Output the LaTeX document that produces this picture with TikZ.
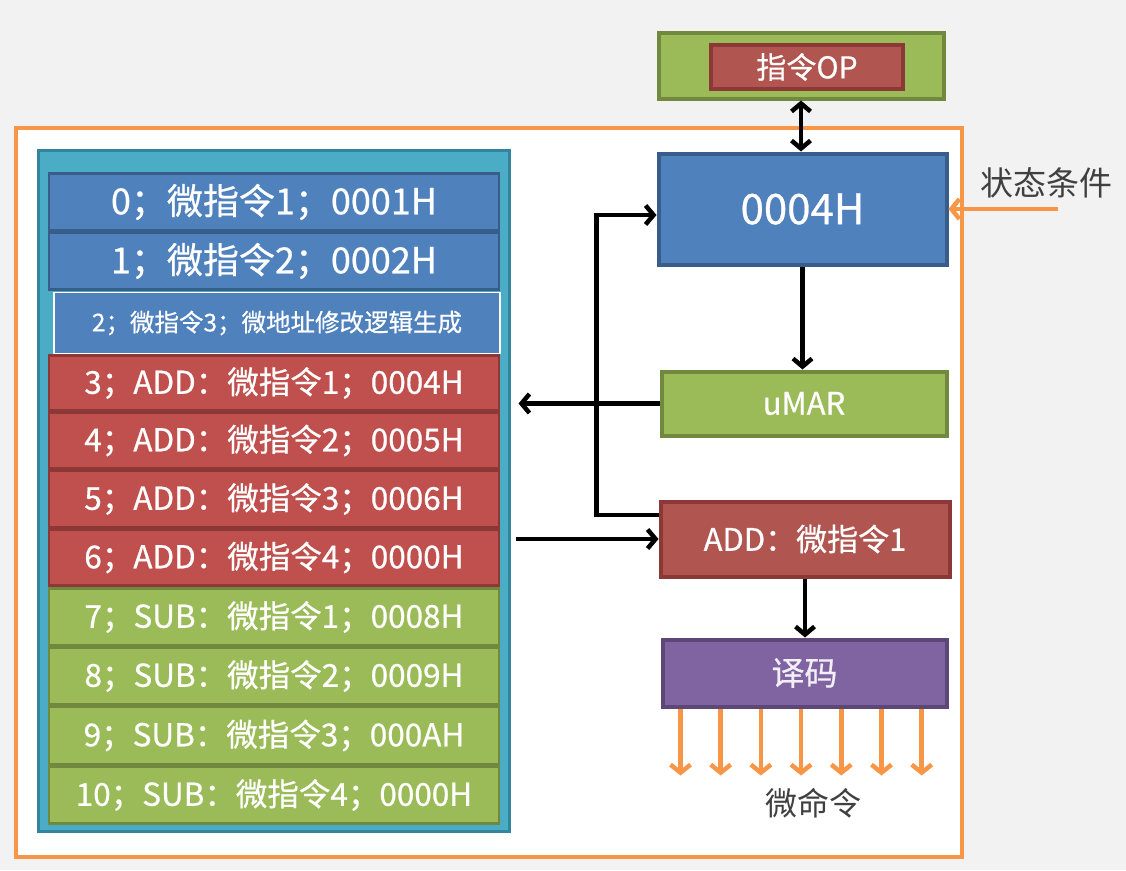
\documentclass[tikz,border=0pt]{standalone}
\usepackage{fontspec}
\setmainfont{Noto Sans CJK SC}[FakeBold=0.6]
\newfontfamily\lblfont{Noto Sans CJK SC}
\usetikzlibrary{arrows.meta}
\definecolor{bgc}{HTML}{F2F2F2}
\definecolor{org}{HTML}{F79646}
\definecolor{teal}{HTML}{4BACC6}
\definecolor{tealD}{HTML}{31859C}
\definecolor{blu}{HTML}{4F81BD}
\definecolor{bluD}{HTML}{385D8A}
\definecolor{red}{HTML}{C0504D}
\definecolor{redD}{HTML}{8C3836}
\definecolor{redB}{HTML}{B0554F}
\definecolor{grn}{HTML}{9BBB59}
\definecolor{grnD}{HTML}{71893F}
\definecolor{pur}{HTML}{8064A2}
\definecolor{purD}{HTML}{5C4776}
\definecolor{gtx}{HTML}{404040}
\begin{document}
\begin{tikzpicture}[x=1pt,y=-1pt,
  box/.style={draw, line width=4pt, inner sep=0pt, text=white},
  rowbox/.style={box, line width=2.5pt, minimum width=450pt},
  fs/.style={font=\fontsize{#1}{#1}\selectfont},
  arr/.style={line width=4.5pt, -{Straight Barb[length=8pt,width=19pt]}},
  darr/.style={line width=4.5pt, {Straight Barb[length=8pt,width=19pt]}-{Straight Barb[length=8pt,width=19pt]}},
  oarr/.style={line width=4.5pt, draw=org, -{Straight Barb[length=8pt,width=20pt]}},
  lbl/.style={text=gtx, inner sep=0pt}]
\fill[bgc] (0,0) rectangle (1126,870);
\useasboundingbox (0,0) rectangle (1126,870);
% outer orange frame
\draw[org, line width=3.5pt, fill=white] (16,128) rectangle (962,857);
% control store container
\node[draw=tealD, fill=teal, line width=3pt, minimum width=471pt, minimum height=681pt, inner sep=0pt] (cs) at (273.5,490.5) {};
% rows
\node[rowbox, fill=blu, draw=bluD, minimum height=57pt, fs=36] (r0) at (274,202) {0；微指令1；0001H};
\node[rowbox, fill=blu, draw=bluD, minimum height=57pt, fs=36] (r1) at (274,261) {1；微指令2；0002H};
\node[rowbox, fill=blu, draw=white, line width=1.2pt, minimum width=446pt, minimum height=61pt, fs=24.5] (r2) at (277,323) {2；微指令3；微地址修改逻辑生成};
\node[rowbox, fill=red, draw=redD, minimum height=55pt, fs=31.5] (r3) at (274,383) {3；ADD：微指令1；0004H};
\node[rowbox, fill=red, draw=redD, minimum height=56pt, fs=31.5] (r4) at (274,440.5) {4；ADD：微指令2；0005H};
\node[rowbox, fill=red, draw=redD, minimum height=57pt, fs=31.5] (r5) at (274,499) {5；ADD：微指令3；0006H};
\node[rowbox, fill=red, draw=redD, minimum height=56pt, fs=31.5] (r6) at (274,557.5) {6；ADD：微指令4；0000H};
\node[rowbox, fill=grn, draw=grnD, minimum height=57pt, fs=31.5] (r7) at (274,617) {7；SUB：微指令1；0008H};
\node[rowbox, fill=grn, draw=grnD, minimum height=57pt, fs=31.5] (r8) at (274,676) {8；SUB：微指令2；0009H};
\node[rowbox, fill=grn, draw=grnD, minimum height=58pt, fs=31.5] (r9) at (274,735.5) {9；SUB：微指令3；000AH};
\node[rowbox, fill=grn, draw=grnD, minimum height=57pt, fs=31.5] (r10) at (274,795) {10；SUB：微指令4；0000H};
% right side
\node[box, fill=grn, draw=grnD, minimum width=285pt, minimum height=66pt] (op) at (801,65.5) {};
\node[box, fill=redB, draw=redD, minimum width=192pt, minimum height=44pt, fs=30] (opin) at (807,67) {指令OP};
\node[box, fill=blu, draw=bluD, minimum width=288pt, minimum height=111pt, fs=42] (pc) at (802.5,209) {0004H};
\node[box, fill=grn, draw=grnD, minimum width=285pt, minimum height=64pt, fs=31] (umar) at (804,403.5) {uMAR};
\node[box, fill=redB, draw=redD, minimum width=289pt, minimum height=75pt, fs=31] (add) at (805,539) {ADD：微指令1};
\node[box, fill=pur, draw=purD, minimum width=284pt, minimum height=67pt, fs=33, text=white!90!pur] (dec) at (804.5,673) {译码};
\node[lbl, font=\lblfont\fontsize{33}{33}\selectfont] (cond) at (1046,183) {状态条件};
\node[lbl, font=\lblfont\fontsize{32}{32}\selectfont] (mcmd) at (813,803) {微命令};
\coordinate (condtail) at (1058,209);
% connectors
\draw[darr] (op.south) -- (op.south |- pc.north);
\draw[arr] (pc.south) -- (pc.south |- umar.north);
\draw[arr] (umar.west) -- ([xshift=8pt]cs.east |- umar.west);
\draw[arr] ([xshift=5pt]cs.east |- add.west) -- (add.west);
\draw[arr] ([yshift=24pt]add.west) -- ++(-62,0) |- ([yshift=-6pt]pc.west);
\draw[arr] (add.south) -- (add.south |- dec.north);
\draw[oarr] (condtail) -- (condtail -| pc.east);
\foreach \i in {0,...,6}
  \draw[oarr] ([xshift={20pt+40.2pt*\i}]dec.south west) -- ++(0,67);
\end{tikzpicture}
\end{document}
